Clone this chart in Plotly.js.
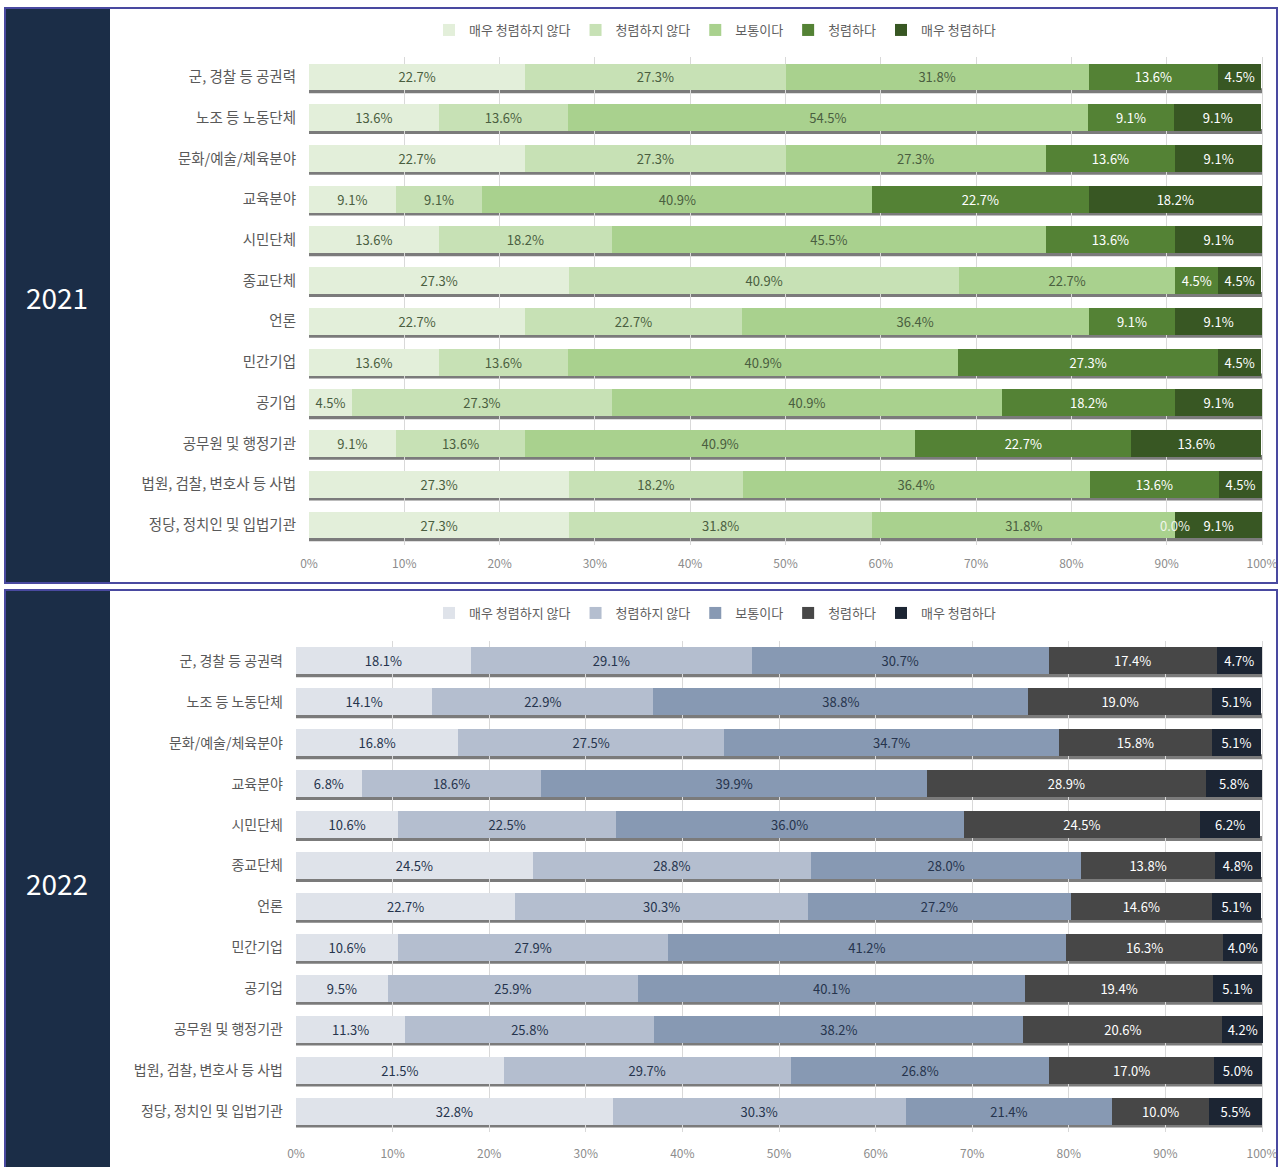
<!DOCTYPE html>
<html>
<head>
<meta charset="utf-8">
<script src="https://cdn.plot.ly/plotly-3.0.1.min.js"></script>
<style>
  html, body { margin: 0; padding: 0; background: #ffffff; }
  #chart { width: 1279px; height: 1167px; }
</style>
</head>
<body>
<div id="chart"></div>
<script>
// ---------- data ----------
const categories = [
  '군, 경찰 등 공권력',
  '노조 등 노동단체',
  '문화/예술/체육분야',
  '교육분야',
  '시민단체',
  '종교단체',
  '언론',
  '민간기업',
  '공기업',
  '공무원 및 행정기관',
  '법원, 검찰, 변호사 등 사법',
  '정당, 정치인 및 입법기관'
];
const levels = ['매우 청렴하지 않다', '청렴하지 않다', '보통이다', '청렴하다', '매우 청렴하다'];
const years = ['2021', '2022'];
const xTicks = [0, 10, 20, 30, 40, 50, 60, 70, 80, 90, 100];

// 2021
const y2021_veryNot = [22.7, 13.6, 22.7, 9.1, 13.6, 27.3, 22.7, 13.6, 4.5, 9.1, 27.3, 27.3];
const y2021_not     = [27.3, 13.6, 27.3, 9.1, 18.2, 40.9, 22.7, 13.6, 27.3, 13.6, 18.2, 31.8];
const y2021_normal  = [31.8, 54.5, 27.3, 40.9, 45.5, 22.7, 36.4, 40.9, 40.9, 40.9, 36.4, 31.8];
const y2021_clean   = [13.6, 9.1, 13.6, 22.7, 13.6, 4.5, 9.1, 27.3, 18.2, 22.7, 13.6, 0.0];
const y2021_veryClean = [4.5, 9.1, 9.1, 18.2, 9.1, 4.5, 9.1, 4.5, 9.1, 13.6, 4.5, 9.1];

// 2022
const y2022_veryNot = [18.1, 14.1, 16.8, 6.8, 10.6, 24.5, 22.7, 10.6, 9.5, 11.3, 21.5, 32.8];
const y2022_not     = [29.1, 22.9, 27.5, 18.6, 22.5, 28.8, 30.3, 27.9, 25.9, 25.8, 29.7, 30.3];
const y2022_normal  = [30.7, 38.8, 34.7, 39.9, 36.0, 28.0, 27.2, 41.2, 40.1, 38.2, 26.8, 21.4];
const y2022_clean   = [17.4, 19.0, 15.8, 28.9, 24.5, 13.8, 14.6, 16.3, 19.4, 20.6, 17.0, 10.0];
const y2022_veryClean = [4.7, 5.1, 5.1, 5.8, 6.2, 4.8, 5.1, 4.0, 5.1, 4.2, 5.0, 5.5];

// ---------- styles ----------
const FONT = '"Noto Sans CJK KR", "Noto Sans", sans-serif';
const colors2021 = ['#e3efda', '#c7e1b5', '#a9d18e', '#548235', '#385723'];
const textCol2021 = ['#4a5e40', '#4a5e40', '#4a5e40', '#ffffff', '#ffffff'];
const colors2022 = ['#dfe3ea', '#b4becf', '#8799b3', '#474747', '#1c2533'];
const textCol2022 = ['#26344d', '#26344d', '#26344d', '#ffffff', '#ffffff'];

const series2021 = [y2021_veryNot, y2021_not, y2021_normal, y2021_clean, y2021_veryClean];
const series2022 = [y2022_veryNot, y2022_not, y2022_normal, y2022_clean, y2022_veryClean];

const BAR_W = 0.66;

function makeTraces(series, cols, tcols, xa, ya, legendId) {
  return series.map((vals, k) => ({
    type: 'bar',
    orientation: 'h',
    name: levels[k],
    x: vals,
    y: categories,
    xaxis: xa,
    yaxis: ya,
    legend: legendId,
    width: BAR_W,
    marker: { color: cols[k], line: { width: 0 } },
    texttemplate: '%{x:.1f}%',
    textposition: vals.map(v => v === 0 ? 'none' : 'inside'),
    insidetextanchor: 'middle',
    textangle: 0,
    constraintext: 'none',
    cliponaxis: false,
    textfont: { family: FONT, size: 13, color: tcols[k] },
    insidetextfont: { family: FONT, size: 13, color: tcols[k] },
    hoverinfo: 'skip'
  }));
}

const traces = [
  ...makeTraces(series2021, colors2021, textCol2021, 'x', 'y', 'legend'),
  ...makeTraces(series2022, colors2022, textCol2022, 'x2', 'y2', 'legend2')
];

// labels of zero-width segments (drawn on top, positioned on the data scales)
function zeroLabels(series, xr, yr, color) {
  const out = [];
  categories.forEach((c, i) => {
    let cum = 0;
    series.forEach(vals => {
      if (vals[i] === 0) {
        out.push({ text: vals[i].toFixed(1) + '%', xref: xr, yref: yr, x: cum, y: c,
          showarrow: false, xanchor: 'center',
          font: { family: FONT, size: 13, color: color } });
      }
      cum += vals[i];
    });
  });
  return out;
}

// bar bottom shadow lines, positioned on the category scale
function shadowShapes(xr, yr) {
  return categories.map(c => ({
    type: 'rect', layer: 'below', xref: xr, yref: yr,
    x0: 0, x1: 100,
    y0: categories.indexOf(c) + 0.28, y1: categories.indexOf(c) + 0.40,
    fillcolor: '#7b7b7b', line: { width: 0 }
  }));
}

const W = 1279, H = 1167;
const px = v => v / W;
const py = v => 1 - v / H;
const XMAX = 100.25;

const shapes = [
  { type: 'rect', xref: 'paper', yref: 'paper', layer: 'below',
    x0: px(5), x1: px(110), y0: py(583), y1: py(8),
    fillcolor: '#1b2d47', line: { width: 0 } },
  { type: 'rect', xref: 'paper', yref: 'paper', layer: 'above',
    x0: px(5), x1: px(1277), y0: py(583), y1: py(8),
    line: { color: '#4949a0', width: 2 } },
  { type: 'rect', xref: 'paper', yref: 'paper', layer: 'below',
    x0: px(5), x1: px(110), y0: py(1170), y1: py(590),
    fillcolor: '#1b2d47', line: { width: 0 } },
  { type: 'rect', xref: 'paper', yref: 'paper', layer: 'above',
    x0: px(5), x1: px(1277), y0: py(1172), y1: py(590),
    line: { color: '#4949a0', width: 2 } },
  ...shadowShapes('x', 'y'),
  ...shadowShapes('x2', 'y2')
];

const annotations = [
  { text: years[0], xref: 'paper', yref: 'paper', x: px(57), y: py(297),
    xanchor: 'center', yanchor: 'middle',
    showarrow: false, font: { family: FONT, size: 28, color: '#ffffff' } },
  { text: years[1], xref: 'paper', yref: 'paper', x: px(57), y: py(883),
    xanchor: 'center', yanchor: 'middle',
    showarrow: false, font: { family: FONT, size: 28, color: '#ffffff' } },
  ...zeroLabels(series2021, 'x', 'y', '#f0f5ea'),
  ...zeroLabels(series2022, 'x2', 'y2', '#ffffff')
];

const xaxisBase = {
  range: [0, XMAX],
  tickvals: xTicks,
  ticktext: xTicks.map(t => t + '%'),
  showgrid: true, gridcolor: '#d9d9d9', gridwidth: 1,
  zeroline: false, showline: false, ticks: '',
  ticklabeloverflow: 'allow',
  tickfont: { family: FONT, size: 12, color: '#8c8c8c' },
  fixedrange: true
};
const yaxisBase = {
  type: 'category',
  autorange: 'reversed',
  showgrid: false, zeroline: false, showline: false, ticks: '',
  ticklabelstandoff: 12,
  fixedrange: true
};

const legendBase = {
  orientation: 'h', xanchor: 'center', yanchor: 'middle',
  traceorder: 'normal',
  font: { family: FONT, size: 13, color: '#5f5f5f' },
  bgcolor: 'rgba(0,0,0,0)', itemwidth: 30, itemclick: false, itemdoubleclick: false
};

const END = 1262;
const end1 = 309 + (END - 309) * XMAX / 100;
const end2 = 296 + (END - 296) * XMAX / 100;

const layout = {
  width: W, height: H,
  margin: { l: 0, r: 0, t: 0, b: 0, pad: 0 },
  paper_bgcolor: '#ffffff',
  plot_bgcolor: 'rgba(0,0,0,0)',
  barmode: 'stack',
  font: { family: FONT },
  showlegend: true,
  xaxis:  Object.assign({}, xaxisBase, { domain: [px(309), px(end1)], anchor: 'y', ticklabelstandoff: 10 }),
  yaxis:  Object.assign({}, yaxisBase, { domain: [py(545.4), py(56.6)], anchor: 'x',
            tickfont: { family: FONT, size: 14.5, color: '#595959' } }),
  xaxis2: Object.assign({}, xaxisBase, { domain: [px(296), px(end2)], anchor: 'y2', ticklabelstandoff: 13 }),
  yaxis2: Object.assign({}, yaxisBase, { domain: [py(1131.5), py(640.5)], anchor: 'x2',
            tickfont: { family: FONT, size: 14, color: '#595959' } }),
  legend:  Object.assign({}, legendBase, { x: px(715), y: py(30) }),
  legend2: Object.assign({}, legendBase, { x: px(715), y: py(613) }),
  shapes: shapes,
  annotations: annotations
};

Plotly.newPlot('chart', traces, layout, { staticPlot: true, displayModeBar: false });
</script>
</body>
</html>
